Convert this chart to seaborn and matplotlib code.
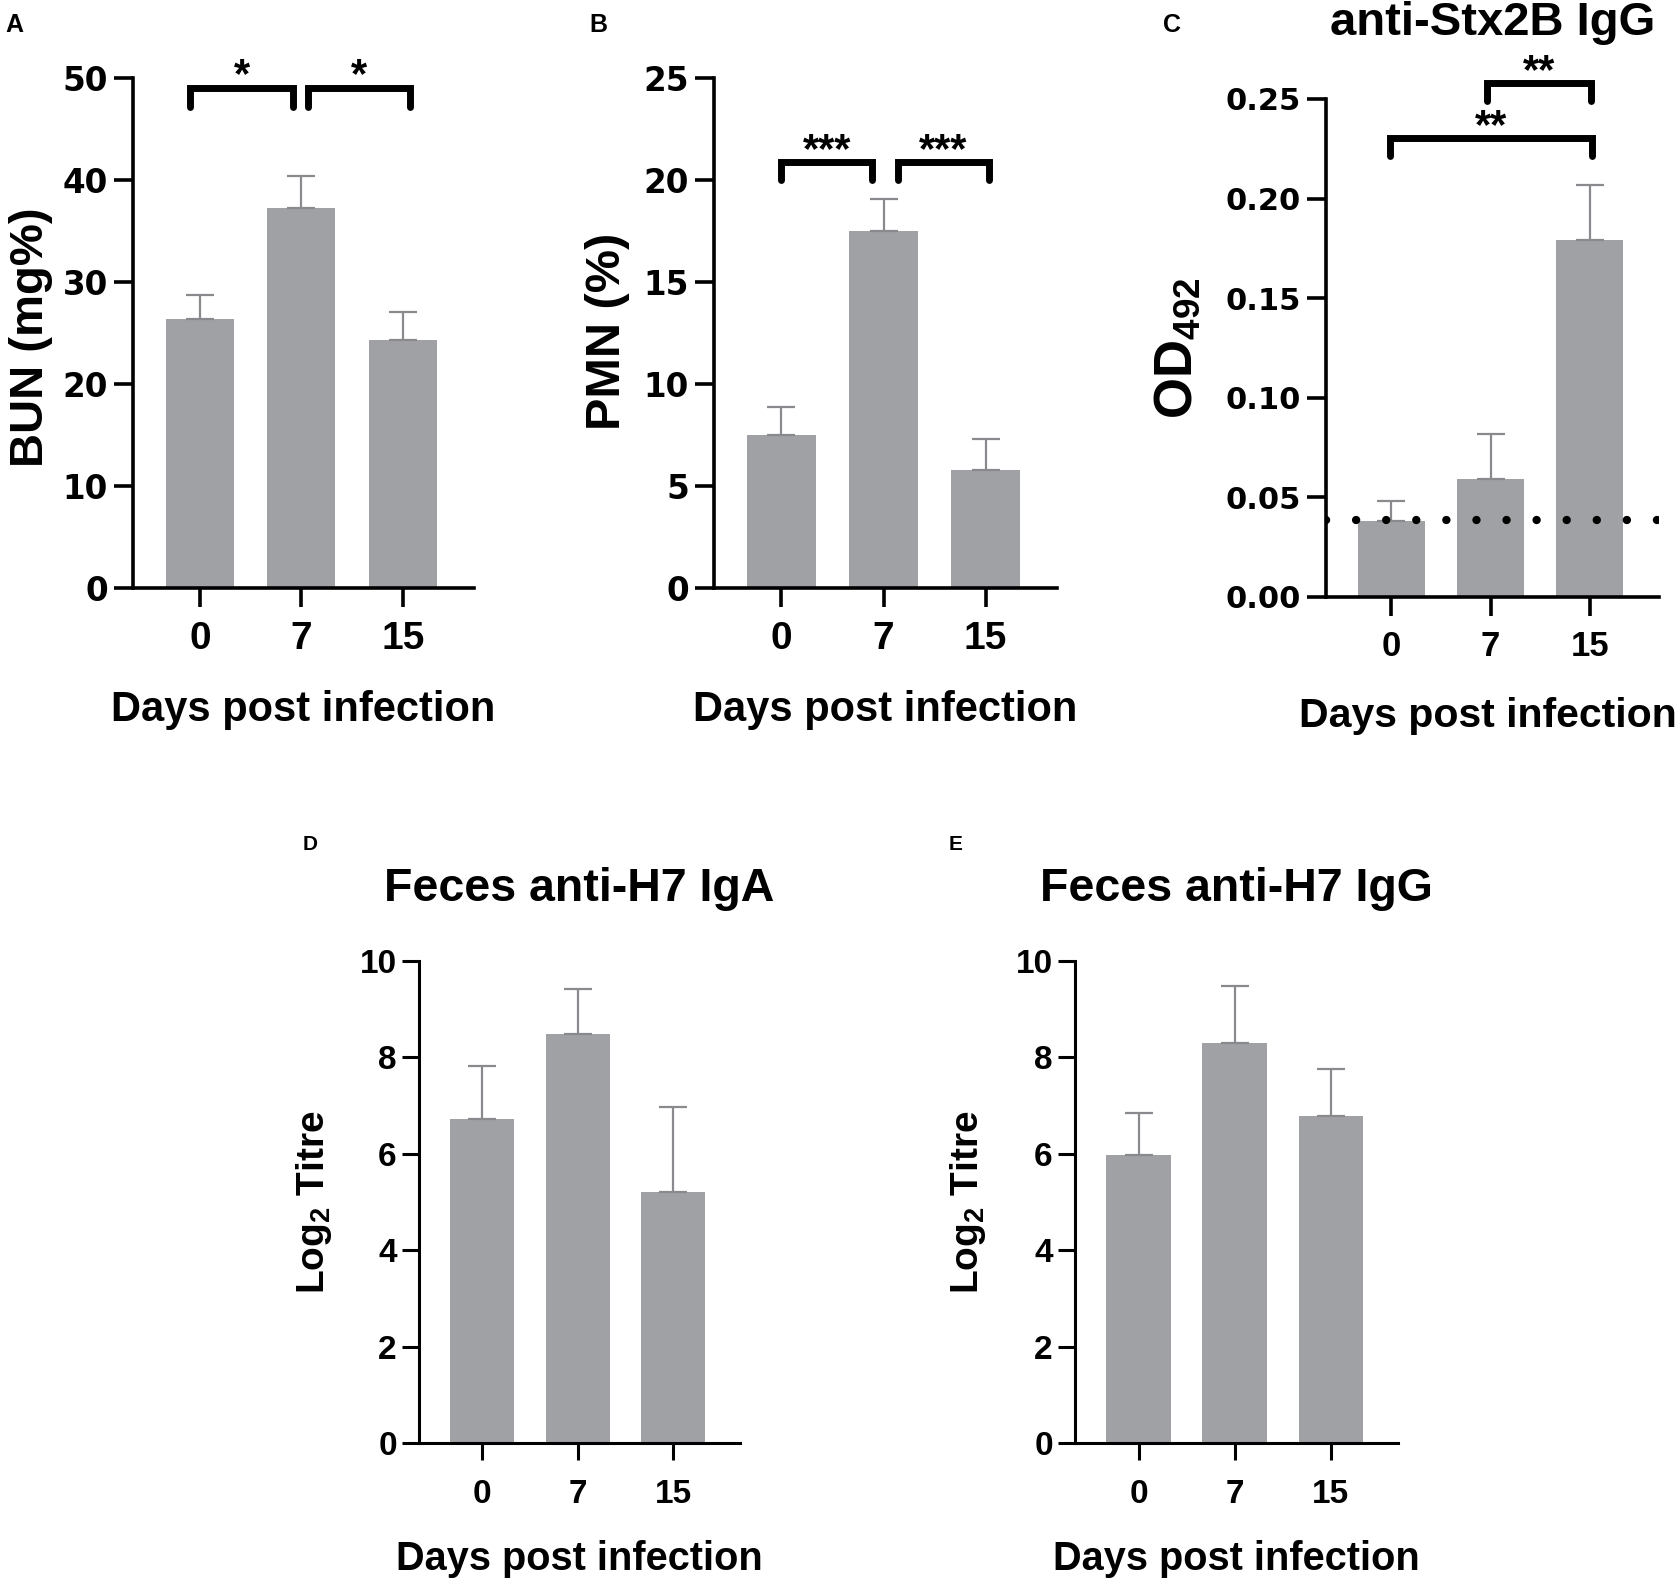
import numpy as np
import pandas as pd
import seaborn as sns
import matplotlib.pyplot as plt

# days post infection (x categories)
days = ['0', '7', '15']

# A: blood urea nitrogen
bun_mean = [26.4, 37.3, 24.3]
bun_sem = [2.3, 3.1, 2.8]

# B: neutrophils
pmn_mean = [7.5, 17.5, 5.8]
pmn_sem = [1.4, 1.6, 1.5]

# C: serum anti-Stx2B IgG
od_mean = [0.038, 0.059, 0.179]
od_sem = [0.010, 0.023, 0.028]
od_cutoff = 0.0385

# D, E: feces antibodies
iga_mean = [6.73, 8.49, 5.21]
iga_sem = [1.10, 0.94, 1.77]
igg_mean = [5.98, 8.30, 6.79]
igg_sem = [0.86, 1.18, 0.98]

bar_color = '#a0a1a5'
err_color = '#8a8a8e'

sns.set_style('ticks')
plt.rcParams['font.family'] = ['Liberation Sans', 'DejaVu Sans']
plt.rcParams['font.weight'] = 'bold'
plt.rcParams['mathtext.default'] = 'regular'
for k in ['text.color', 'axes.labelcolor', 'xtick.color', 'ytick.color', 'axes.edgecolor']:
    plt.rcParams[k] = 'black'

fig = plt.figure(figsize=(16.79, 15.83), dpi=100)


def draw_panel(rect, means, sems, ymax, ystep, ylabel, ylab_x, ylab_y, ylab_size,
               ytick_size, ytick_family, xtick_size, spine_w, tick_len, xpad, ypad,
               yfmt='{:g}'):
    ax = fig.add_axes(rect)
    df = pd.DataFrame({'day': days, 'value': means})
    sns.barplot(data=df, x='day', y='value', order=days, color=bar_color,
                saturation=1, width=0.67, errorbar=None, linewidth=0, ax=ax)
    ax.errorbar(range(len(days)), means, yerr=[np.zeros(len(days)), sems],
                fmt='none', ecolor=err_color, elinewidth=1.6, capsize=10,
                capthick=1.6, zorder=3)
    ax.set_xlim(-0.66, 2.70)
    ax.set_ylim(0, ymax)
    ticks = np.arange(0, ymax + ystep / 2, ystep)
    ax.set_yticks(ticks)
    ax.set_yticklabels([yfmt.format(t) for t in ticks], fontfamily=ytick_family,
                       fontsize=ytick_size, fontweight='bold')
    sns.despine(ax=ax)
    for s in ['left', 'bottom']:
        ax.spines[s].set_linewidth(spine_w)
    ax.tick_params(axis='both', width=spine_w, length=tick_len, color='black')
    ax.tick_params(axis='x', labelsize=xtick_size, pad=xpad)
    ax.tick_params(axis='y', pad=ypad)
    ax.set_xlabel('')
    ax.set_ylabel(ylabel, fontsize=ylab_size, fontweight='bold')
    ax.yaxis.set_label_coords(ylab_x, ylab_y)
    ax.yaxis.label.set_va('baseline')
    return ax


def add_xlabel(ax, size, x=0.5):
    ax.text(x, -0.24, 'Days post infection', transform=ax.transAxes,
            ha='center', va='center', fontsize=size, fontweight='bold')


def add_bracket(ax, x0, x1, y, drop, label, size):
    ax.plot([x0, x0, x1, x1], [y - drop, y, y, y - drop], color='black',
            lw=5, solid_joinstyle='miter', clip_on=False, zorder=4)
    ax.annotate(label, xy=((x0 + x1) / 2, y), xytext=(0, 0),
                textcoords='offset points', ha='center', va='baseline',
                fontsize=size, fontweight='bold', annotation_clip=False)


# A
axA = draw_panel([0.0792, 0.6286, 0.2031, 0.3219], bun_mean, bun_sem, 50, 10,
                 'BUN (mg%)', -0.264, 0.492, 34, 23.5, 'DejaVu Sans', 28, 2.6, 14, 10, 4)
add_xlabel(axA, 30)
add_bracket(axA, -0.1, 0.92, 49.1, 1.9, '*', 30)
add_bracket(axA, 1.06, 2.07, 49.1, 1.9, '*', 30)

# B
axB = draw_panel([0.4253, 0.6286, 0.2043, 0.3219], pmn_mean, pmn_sem, 25, 5,
                 'PMN (%)', -0.274, 0.504, 35, 23.5, 'DejaVu Sans', 28, 2.6, 14, 10, 4)
add_xlabel(axB, 30)
add_bracket(axB, 0.0, 0.885, 20.9, 0.9, '***', 30)
add_bracket(axB, 1.14, 2.03, 20.9, 0.9, '***', 30)

# C
axC = draw_panel([0.7898, 0.6229, 0.1983, 0.3146], od_mean, od_sem, 0.25, 0.05,
                 'OD$_{492}$', -0.405, 0.5, 38, 22, 'DejaVu Sans', 25, 2.6, 14, 10, 4.5,
                 yfmt='{:.2f}')
axC.axhline(od_cutoff, color='black', lw=6, linestyle=(0, (0.01, 3.6)),
            dash_capstyle='round', zorder=4)
add_xlabel(axC, 29.5, x=0.485)
add_bracket(axC, 0.96, 2.01, 0.258, 0.009, '**', 30)
add_bracket(axC, -0.01, 2.02, 0.2303, 0.009, '**', 30)
axC.text(0.5, 1.153, 'anti-Stx2B IgG', transform=axC.transAxes, ha='center',
         va='center', fontsize=34, fontweight='bold')

# D
axD = draw_panel([0.2496, 0.0884, 0.1912, 0.3045], iga_mean, iga_sem, 10, 2,
                 'Log$_2$ Titre', -0.296, 0.5, 28, 24, 'Liberation Sans', 24, 2.2, 12, 14, 4)
add_xlabel(axD, 28.6)
axD.text(0.5, 1.149, 'Feces anti-H7 IgA', transform=axD.transAxes, ha='center',
         va='center', fontsize=33.5, fontweight='bold')

# E
axE = draw_panel([0.6403, 0.0884, 0.1924, 0.3045], igg_mean, igg_sem, 10, 2,
                 'Log$_2$ Titre', -0.30, 0.5, 28, 24, 'Liberation Sans', 24, 2.2, 12, 14, 4)
add_xlabel(axE, 28.6)
axE.text(0.5, 1.149, 'Feces anti-H7 IgG', transform=axE.transAxes, ha='center',
         va='center', fontsize=33.5, fontweight='bold')

# panel letters
for letter, x, y, size in [('A', 14, 25, 18), ('B', 598, 25, 18), ('C', 1172, 25, 18),
                           ('D', 310, 844, 15), ('E', 956, 844, 15)]:
    fig.text(x / 1679, 1 - y / 1583, letter, ha='center', va='center',
             fontsize=size, fontweight='bold')

fig.savefig('out.png', dpi=100, facecolor='white')
